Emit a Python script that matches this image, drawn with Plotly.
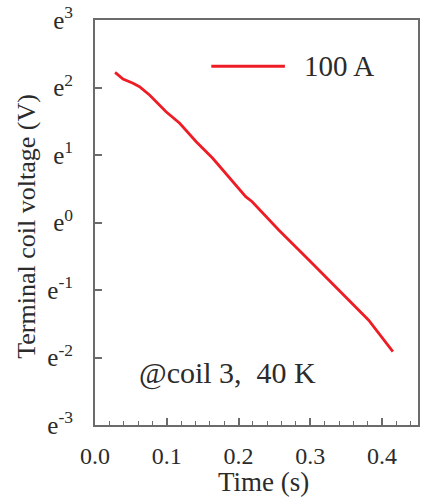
import numpy as np
import plotly.graph_objects as go

# data (time in s, terminal coil voltage in V)
time_s = [0.028, 0.039, 0.053, 0.062, 0.076, 0.099, 0.118, 0.141, 0.164,
          0.182, 0.210, 0.219, 0.256, 0.298, 0.339, 0.381, 0.415]
voltage_v = [9.25, 8.38, 7.86, 7.48, 6.61, 5.16, 4.35, 3.31, 2.59,
             2.07, 1.465, 1.361, 0.895, 0.573, 0.368, 0.236, 0.1475]
series_name = "100 A"
y_exponents = [-3, -2, -1, 0, 1, 2, 3]
x_ticks = [0.0, 0.1, 0.2, 0.3, 0.4]
x_ticklabels = ["0.0", "0.1", "0.2", "0.3", "0.4"]

FONT = "'Times New Roman', 'Liberation Serif', 'DejaVu Serif', serif"
TXT = "#2b2b2b"
AX = "#6b6b6b"
RED = "#ee1c25"

fig = go.Figure()
fig.add_trace(go.Scatter(x=time_s, y=voltage_v, mode="lines", name=series_name,
                         line=dict(color=RED, width=2.8), showlegend=False))

ytickvals = [float(np.exp(k)) for k in y_exponents]
yticktext = [f"e<sup>{k}</sup>" for k in y_exponents]
lo = y_exponents[0] / np.log(10)
hi = y_exponents[-1] / np.log(10)

fig.update_layout(
    width=422, height=503,
    margin=dict(l=95, r=2, t=20, b=78),
    paper_bgcolor="white", plot_bgcolor="white",
    font=dict(family=FONT, color=TXT, size=24),
    xaxis=dict(range=[0, 0.45], tickvals=x_ticks, ticktext=x_ticklabels,
               ticks="inside", ticklen=7, tickwidth=1.5, tickcolor=AX,
               showline=True, linecolor=AX, linewidth=2, mirror=True,
               showgrid=False, zeroline=False, ticklabelstandoff=8,
               tickfont=dict(size=24, family=FONT, color=TXT),
               minor=dict(dtick=0.02, ticks="inside", ticklen=4, tickcolor=AX, tickwidth=1.2)),
    yaxis=dict(type="log", range=[lo, hi], tickvals=ytickvals, ticktext=yticktext,
               ticks="inside", ticklen=7, tickwidth=1.5, tickcolor=AX,
               showline=True, linecolor=AX, linewidth=2, mirror=True,
               showgrid=False, zeroline=False, ticklabelstandoff=15,
               tickfont=dict(size=25, family=FONT, color=TXT)),
    showlegend=False,
)

# legend-like key
fig.add_shape(type="line", xref="paper", yref="paper", x0=0.36, x1=0.588, y0=0.886, y1=0.886,
              line=dict(color=RED, width=3))
fig.add_annotation(xref="paper", yref="paper", x=0.64, y=0.886, text=series_name,
                   showarrow=False, xanchor="left", yanchor="middle",
                   font=dict(size=29, family=FONT, color=TXT))
fig.add_annotation(xref="paper", yref="paper", x=0.13, y=0.128, text="@coil 3,  40 K",
                   showarrow=False, xanchor="left", yanchor="middle",
                   font=dict(size=30, family=FONT, color=TXT))
# axis titles
fig.add_annotation(xref="paper", yref="paper", x=-0.213, y=0.49, text="Terminal coil voltage (V)",
                   textangle=-90, showarrow=False, xanchor="center", yanchor="middle",
                   font=dict(size=26, family=FONT, color=TXT))
fig.add_annotation(xref="paper", yref="paper", x=0.523, y=-0.141, text="Time (s)",
                   showarrow=False, xanchor="center", yanchor="middle",
                   font=dict(size=27, family=FONT, color=TXT))

fig.write_html("out.html")
